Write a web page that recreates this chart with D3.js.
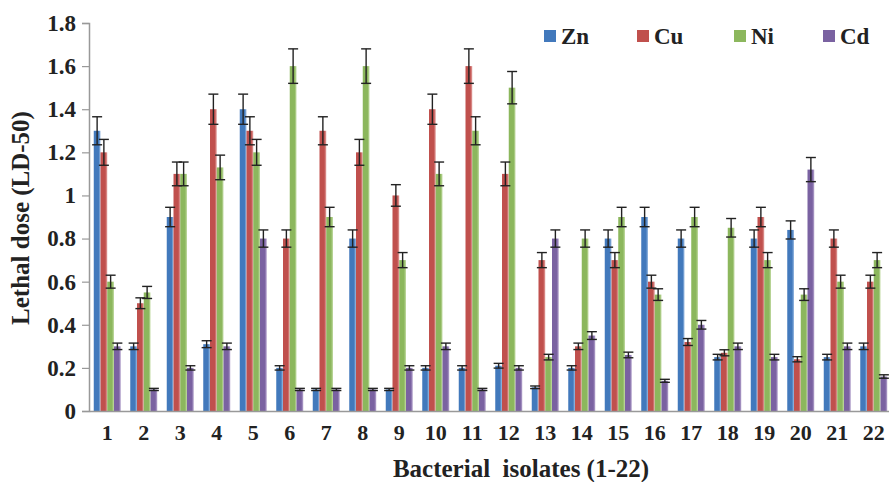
<!DOCTYPE html>
<html>
<head>
<meta charset="utf-8">
<script src="https://cdn.jsdelivr.net/npm/d3@7"></script>
<style>
  body { margin: 0; background: #fff; }
  svg { display: block; }
  text { font-family: "Liberation Serif", "Times New Roman", serif; font-weight: bold; fill: #222; }
</style>
</head>
<body>
<svg id="chart" width="889" height="482"></svg>
<script>
// isolates 1-22
const isolates = ["1","2","3","4","5","6","7","8","9","10","11","12","13","14","15","16","17","18","19","20","21","22"];
const metals = ["Zn", "Cu", "Ni", "Cd"];

const zn = [1.3, 0.3, 0.9, 0.31, 1.4, 0.2, 0.1, 0.8, 0.1, 0.2, 0.2, 0.21, 0.11, 0.2, 0.8, 0.9, 0.8, 0.25, 0.8, 0.84, 0.25, 0.3];
const cu = [1.2, 0.5, 1.1, 1.4, 1.3, 0.8, 1.3, 1.2, 1.0, 1.4, 1.6, 1.1, 0.7, 0.3, 0.7, 0.6, 0.32, 0.27, 0.9, 0.24, 0.8, 0.6];
const ni = [0.6, 0.55, 1.1, 1.13, 1.2, 1.6, 0.9, 1.6, 0.7, 1.1, 1.3, 1.5, 0.25, 0.8, 0.9, 0.54, 0.9, 0.85, 0.7, 0.54, 0.6, 0.7];
const cd = [0.3, 0.1, 0.2, 0.3, 0.8, 0.1, 0.1, 0.1, 0.2, 0.3, 0.1, 0.2, 0.8, 0.35, 0.26, 0.14, 0.4, 0.3, 0.25, 1.12, 0.3, 0.16];

// error bar half-lengths
const znErr = [0.065, 0.015, 0.045, 0.016, 0.07, 0.01, 0.005, 0.04, 0.005, 0.01, 0.01, 0.011, 0.006, 0.01, 0.04, 0.045, 0.04, 0.013, 0.04, 0.042, 0.013, 0.015];
const cuErr = [0.06, 0.025, 0.055, 0.07, 0.065, 0.04, 0.065, 0.06, 0.05, 0.07, 0.08, 0.055, 0.035, 0.015, 0.035, 0.03, 0.016, 0.014, 0.045, 0.012, 0.04, 0.03];
const niErr = [0.03, 0.028, 0.055, 0.057, 0.06, 0.08, 0.045, 0.08, 0.035, 0.055, 0.065, 0.075, 0.013, 0.04, 0.045, 0.027, 0.045, 0.043, 0.035, 0.027, 0.03, 0.035];
const cdErr = [0.015, 0.005, 0.01, 0.015, 0.04, 0.005, 0.005, 0.005, 0.01, 0.015, 0.005, 0.01, 0.04, 0.018, 0.013, 0.007, 0.02, 0.015, 0.013, 0.056, 0.015, 0.008];

const yTicks = [0, 0.2, 0.4, 0.6, 0.8, 1, 1.2, 1.4, 1.6, 1.8];
const colors = ["#4279BC", "#C0504D", "#8CB75D", "#7A62A1"];
const lights = ["#9DBDE3", "#E3A3A1", "#C4DCA6", "#B7A7CF"];

const values = [zn, cu, ni, cd];
const errors = [znErr, cuErr, niErr, cdErr];

const svg = d3.select("#chart");
const plot = { left: 89, right: 892, top: 23, bottom: 411 };

const x = d3.scaleBand().domain(isolates).range([plot.left, plot.right]).padding(0);
const xInner = d3.scaleBand().domain(metals).range([4.75, x.bandwidth() - 4.75]).padding(0);
const y = d3.scaleLinear().domain([0, 1.8]).range([plot.bottom, plot.top]);

// gradients, Excel style light right edge
const defs = svg.append("defs");
metals.forEach((m, i) => {
  const g = defs.append("linearGradient").attr("id", "grad" + m)
    .attr("x1", "0%").attr("x2", "100%").attr("y1", "0%").attr("y2", "0%");
  g.append("stop").attr("offset", "0%").attr("stop-color", colors[i]);
  g.append("stop").attr("offset", "70%").attr("stop-color", colors[i]);
  g.append("stop").attr("offset", "100%").attr("stop-color", lights[i]);
});

// y axis
const yAxis = svg.append("g")
  .attr("transform", `translate(${plot.left},0)`)
  .call(d3.axisLeft(y).tickValues(yTicks).tickSize(7).tickPadding(6).tickFormat(d => String(+d.toFixed(1))));
yAxis.select(".domain").attr("stroke", "#999").attr("stroke-width", 1.5);
yAxis.selectAll(".tick line").attr("stroke", "#999").attr("stroke-width", 1.2);
yAxis.selectAll(".tick text")
  .attr("font-size", 23)
  .attr("font-family", "Liberation Serif")
  .attr("font-weight", "bold")
  .attr("fill", "#222");

// bars
const groups = svg.append("g").selectAll("g")
  .data(isolates)
  .join("g")
  .attr("transform", d => `translate(${x(d)},0)`);

metals.forEach((m, si) => {
  groups.append("rect")
    .attr("x", xInner(m))
    .attr("width", xInner.bandwidth())
    .attr("y", (d, i) => y(values[si][i]))
    .attr("height", (d, i) => y(0) - y(values[si][i]))
    .attr("fill", `url(#grad${m})`);
});

// x axis
const xAxis = svg.append("g")
  .attr("transform", `translate(0,${plot.bottom})`)
  .call(d3.axisBottom(x).tickSize(0).tickPadding(13));
xAxis.select(".domain").attr("stroke", "#999").attr("stroke-width", 1.5);
xAxis.selectAll(".tick text")
  .attr("font-size", 22)
  .attr("font-family", "Liberation Serif")
  .attr("font-weight", "bold")
  .attr("fill", "#222");

// error bars
metals.forEach((m, si) => {
  const eb = groups.append("g")
    .attr("stroke", "#222")
    .attr("stroke-width", 1.4);
  const cx = xInner(m) + xInner.bandwidth() / 2;
  eb.append("line")
    .attr("x1", cx).attr("x2", cx)
    .attr("y1", (d, i) => y(values[si][i] - errors[si][i]))
    .attr("y2", (d, i) => y(values[si][i] + errors[si][i]));
  eb.append("line")
    .attr("x1", cx - 5).attr("x2", cx + 5)
    .attr("y1", (d, i) => y(values[si][i] + errors[si][i]))
    .attr("y2", (d, i) => y(values[si][i] + errors[si][i]));
  eb.append("line")
    .attr("x1", cx - 5).attr("x2", cx + 5)
    .attr("y1", (d, i) => y(values[si][i] - errors[si][i]))
    .attr("y2", (d, i) => y(values[si][i] - errors[si][i]));
});

// legend
const legendX = [544, 637, 734, 823];
const legend = svg.append("g").selectAll("g")
  .data(metals)
  .join("g")
  .attr("transform", (d, i) => `translate(${legendX[i]},30)`);
legend.append("rect").attr("width", 12).attr("height", 12).attr("fill", (d, i) => colors[i]);
legend.append("text").attr("x", 17).attr("y", 14).attr("font-size", 23).text(d => d);

// axis titles
svg.append("text")
  .attr("transform", `translate(29,218) rotate(-90)`)
  .attr("text-anchor", "middle")
  .attr("font-size", 25)
  .text("Lethal dose (LD-50)");

svg.append("text")
  .attr("x", 521).attr("y", 477)
  .attr("text-anchor", "middle")
  .attr("font-size", 25)
  .style("white-space", "pre")
  .text("Bacterial  isolates (1-22)");
</script>
</body>
</html>
